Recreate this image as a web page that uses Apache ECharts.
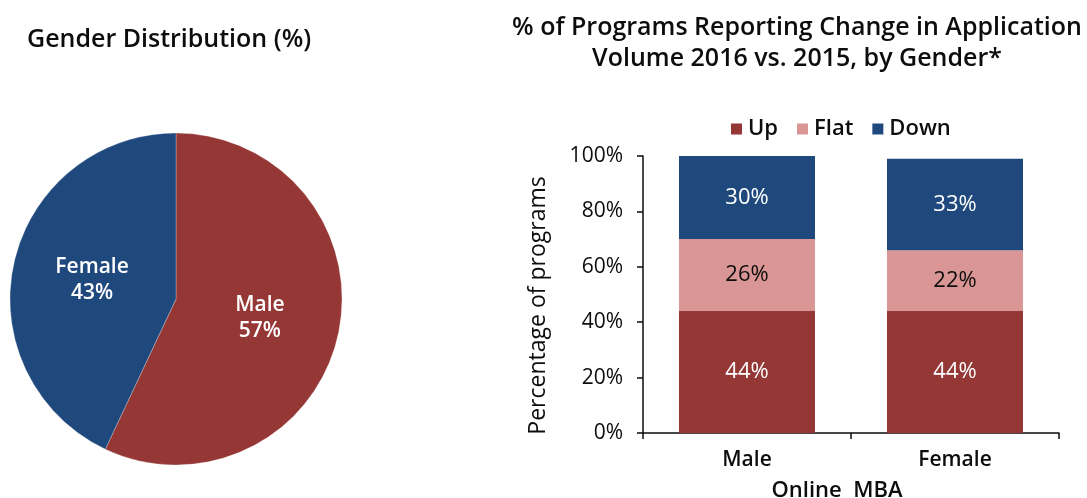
<!DOCTYPE html>
<html>
<head>
<meta charset="utf-8">
<script src="https://cdn.jsdelivr.net/npm/echarts@6/dist/echarts.min.js"></script>
<style>
  html, body { margin: 0; padding: 0; background: #ffffff; }
  #chart { width: 1087px; height: 498px; }
</style>
</head>
<body>
<div id="chart"></div>
<script>
// Gender split of the applicant pool (pie)
const genderNames = ['Male', 'Female'];
const genderShares = [57, 43];

// Share of programs reporting each direction of change, by gender (stacked bars)
const barCategories = ['Male', 'Female'];
const upValues = [44, 44];
const flatValues = [26, 22];
const downValues = [30, 33];
const yTicks = [0, 20, 40, 60, 80, 100];

const RED = '#953735';
const PINK = '#D99694';
const BLUE = '#1F497D';
const FONT = '"Open Sans", sans-serif';
const INK = '#0d0d0d';

const chart = echarts.init(document.getElementById('chart'));

const pctLabel = (p) => p.value + '%';

chart.setOption({
  animation: false,
  textStyle: { fontFamily: FONT },
  title: [
    {
      text: 'Gender Distribution (%)',
      left: 22, top: 22,
      textStyle: { fontFamily: FONT, fontSize: 25, fontWeight: 600, color: INK }
    },
    {
      text: '% of Programs Reporting Change in Application\nVolume 2016 vs. 2015, by Gender*',
      left: 792, top: 7, textAlign: 'center',
      textStyle: { fontFamily: FONT, fontSize: 25, fontWeight: 600, color: INK, lineHeight: 31 }
    },
    {
      text: 'Online  MBA',
      left: 832, top: 475, textAlign: 'center',
      textStyle: { fontFamily: FONT, fontSize: 22, fontWeight: 600, color: INK }
    }
  ],
  legend: {
    data: ['Up', 'Flat', 'Down'],
    left: 726, top: 113,
    icon: 'rect', itemWidth: 11, itemHeight: 11, itemGap: 19,
    textStyle: { fontFamily: FONT, fontSize: 22, fontWeight: 600, color: INK, padding: [0, 0, 0, 1] }
  },
  grid: { left: 643, right: 28, top: 156, bottom: 65, containLabel: false },
  xAxis: {
    type: 'category',
    data: barCategories,
    axisLine: { lineStyle: { color: INK, width: 1.5 } },
    axisTick: { show: true, length: 6, alignWithLabel: false, lineStyle: { color: INK, width: 1.5 } },
    axisLabel: { fontFamily: FONT, fontSize: 21, fontWeight: 600, color: INK, margin: 17 }
  },
  yAxis: {
    type: 'value',
    min: yTicks[0], max: yTicks[yTicks.length - 1], interval: yTicks[1] - yTicks[0],
    name: 'Percentage of programs',
    nameLocation: 'middle', nameGap: 93, nameRotate: 90,
    nameTextStyle: { fontFamily: FONT, fontSize: 23, color: INK, padding: [0, 22, 0, 0] },
    axisLine: { show: true, lineStyle: { color: INK, width: 1.5 } },
    axisTick: { show: true, length: 6, lineStyle: { color: INK, width: 1.5 } },
    splitLine: { show: false },
    axisLabel: { fontFamily: FONT, fontSize: 21, color: INK, margin: 20, formatter: '{value}%' }
  },
  series: [
    {
      type: 'pie',
      center: [176, 299], radius: 166,
      startAngle: 90, clockwise: true,
      label: {
        position: 'inside', fontFamily: FONT, fontSize: 21, fontWeight: 600,
        color: '#fff', lineHeight: 26,
        formatter: (p) => p.name + '\n' + p.value + '%'
      },
      labelLine: { show: false },
      itemStyle: { borderColor: 'rgba(255,255,255,0.5)', borderWidth: 0.5 },
      emphasis: { disabled: true },
      data: genderNames.map((n, i) => ({
        name: n, value: genderShares[i],
        itemStyle: { color: i === 0 ? RED : BLUE },
        label: { padding: i === 0 ? [0, 0, 10, 0] : 0 }
      }))
    },
    {
      name: 'Up', type: 'bar', stack: 'chg', barWidth: 136,
      itemStyle: { color: RED },
      label: { show: true, position: 'inside', color: '#fff', fontFamily: FONT, fontSize: 22, formatter: pctLabel },
      data: upValues
    },
    {
      name: 'Flat', type: 'bar', stack: 'chg', barWidth: 136,
      itemStyle: { color: PINK },
      label: { show: true, position: 'inside', color: INK, fontFamily: FONT, fontSize: 22, formatter: pctLabel },
      data: flatValues
    },
    {
      name: 'Down', type: 'bar', stack: 'chg', barWidth: 136,
      itemStyle: { color: BLUE },
      label: { show: true, position: 'inside', color: '#fff', fontFamily: FONT, fontSize: 22, formatter: pctLabel },
      data: downValues
    }
  ]
});
</script>
</body>
</html>
